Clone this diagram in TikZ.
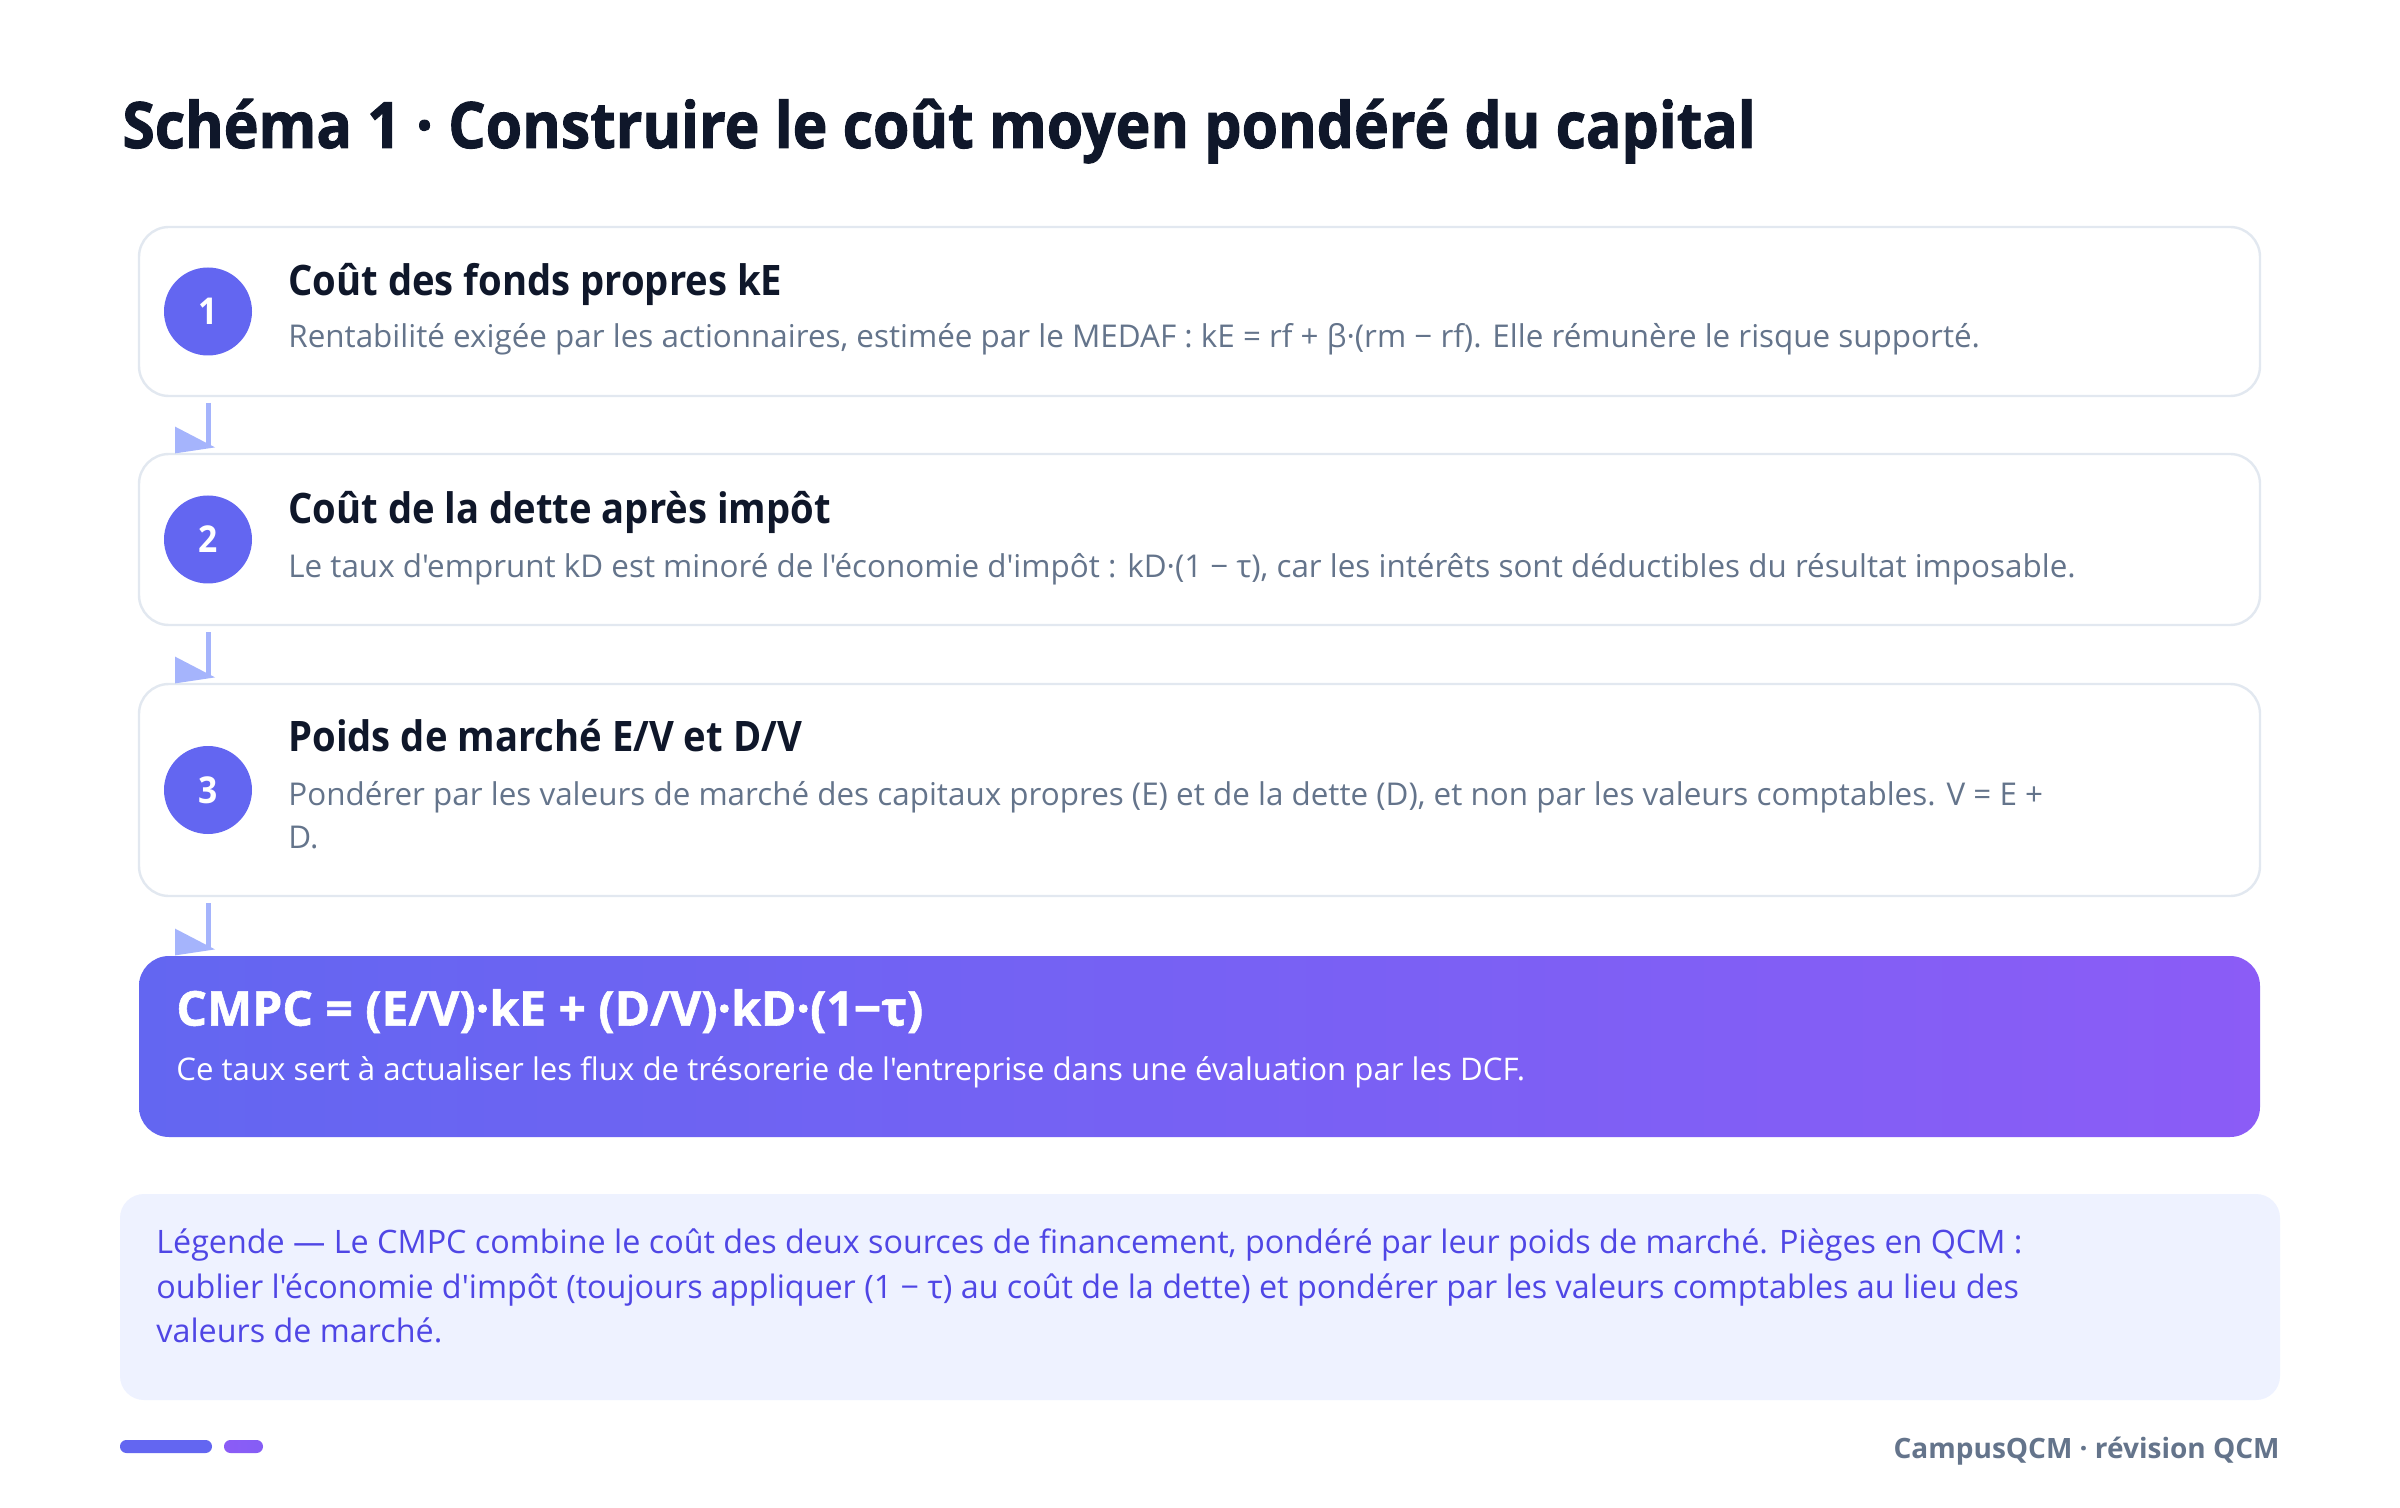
\documentclass[tikz,border=0pt]{standalone}
\usepackage{fontspec}
\setmainfont{Open Sans}[Ligatures=TeXOff]
\newfontfamily\heavy{Open Sans}[Ligatures=TeXOff, FakeStretch=0.92, BoldFeatures={FakeBold=1.5}]
\newfontfamily\heavyw{Open Sans}[Ligatures=TeXOff, BoldFeatures={FakeBold=1.2}]
\newfontfamily\stepfont{Open Sans}[Ligatures=TeXOff, FakeStretch=0.91]
\usetikzlibrary{calc}
\definecolor{ink}{HTML}{0F172A}
\definecolor{muted}{HTML}{64748B}
\definecolor{edge}{HTML}{E2E8F0}
\definecolor{indigo}{HTML}{6366F1}
\definecolor{violet}{HTML}{8B5CF6}
\definecolor{conn}{HTML}{A5B4FC}
\definecolor{legbg}{HTML}{EEF2FF}
\definecolor{legtx}{HTML}{4F46E5}
\tikzset{
  stepbox/.style={draw=edge, line width=1.2pt, fill=white, rounded corners=15pt, minimum width=1060.5pt, anchor=north west, inner sep=0pt, outer sep=0pt},
  numdot/.style={circle, fill=indigo, minimum size=44pt, inner sep=0pt, text=white, font=\stepfont\bfseries\fontsize{18.5}{18.5}\selectfont},
  steptitle/.style={anchor=base west, inner sep=0pt, text=ink, font=\stepfont\bfseries\fontsize{21}{25}\selectfont},
  stepbody/.style={anchor=base west, inner sep=0pt, text=muted, font=\fontsize{15.7}{21.5}\selectfont},
  legline/.style={anchor=base west, inner sep=0pt, text=legtx, font=\fontsize{16.15}{22}\selectfont},
  connline/.style={draw=conn, line width=2.5pt},
  conntip/.style={fill=conn},
}
\begin{document}
\begin{tikzpicture}[x=1pt,y=-1pt]
\useasboundingbox (0,0) rectangle (1200,754);
\fill[white] (0,0) rectangle (1200,754);

\node[anchor=base west, inner sep=0pt, text=ink, font=\heavy\bfseries\fontsize{32}{38}\selectfont] (title) at (61,74) {Schéma 1 · Construire le coût moyen pondéré du capital};

% step boxes
\node[stepbox, minimum height=84.5pt] (b1) at (69.5,113.5) {};
\node[stepbox, minimum height=85.5pt] (b2) at (69.5,227) {};
\node[stepbox, minimum height=106pt] (b3) at (69.5,342) {};

% final box
\shade[left color=indigo, right color=violet, rounded corners=15pt] (69.5,478) rectangle (1130,568.5);
\coordinate (b4) at (69.5,478);

% connectors
\foreach \a/\b in {b1/b2, b2/b3} {
  \draw[connline] ($(\a.south west)+(34.5,3.5)$) -- ($(\b.north west)+(34.5,-3.5)$);
  \fill[conntip] ($(\b.north west)+(18,-13.7)$) -- ($(\b.north west)+(18,-0.3)$) -- ($(\b.north west)+(38,-3.3)$) -- cycle;
}
\draw[connline] ($(b3.south west)+(34.5,3.5)$) -- ($(b4)+(34.5,-3.5)$);
\fill[conntip] ($(b4)+(18,-13.7)$) -- ($(b4)+(18,-0.3)$) -- ($(b4)+(38,-3.3)$) -- cycle;

% numbers
\node[numdot] (n1) at (104,155.75) {1};
\node[numdot] (n2) at (104,269.75) {2};
\node[numdot] (n3) at (104,395) {3};

% texts
\node[steptitle] (t1) at (144,147.7) {Coût des fonds propres kE};
\node[stepbody] (d1) at (144,173.7) {Rentabilité exigée par les actionnaires, estimée par le MEDAF : kE = rf + β·(rm − rf). Elle rémunère le risque supporté.};
\node[steptitle] (t2) at (144,261.7) {Coût de la dette après impôt};
\node[stepbody] (d2) at (144,288.5) {Le taux d'emprunt kD est minoré de l'économie d'impôt : kD·(1 − τ), car les intérêts sont déductibles du résultat imposable.};
\node[steptitle] (t3) at (144,375.8) {Poids de marché E/V et D/V};
\node[stepbody] (d3a) at (144,402.5) {Pondérer par les valeurs de marché des capitaux propres (E) et de la dette (D), et non par les valeurs comptables. V = E +};
\node[stepbody] (d3b) at (144,424) {D.};

\node[anchor=base west, inner sep=0pt, text=white, font=\heavyw\bfseries\fontsize{24}{28}\selectfont] (t4) at (88,512.8) {CMPC = (E/V)·kE + (D/V)·kD·(1−τ)};
\node[anchor=base west, inner sep=0pt, text=white, font=\fontsize{15.6}{21.5}\selectfont] (d4) at (88,540.3) {Ce taux sert à actualiser les flux de trésorerie de l'entreprise dans une évaluation par les DCF.};

% legend
\fill[legbg, rounded corners=12pt] (60,597) rectangle (1140,700);
\node[legline] (leg1) at (78,626.8) {Légende — Le CMPC combine le coût des deux sources de financement, pondéré par leur poids de marché. Pièges en QCM :};
\node[legline] (leg2) at (78,649) {oublier l'économie d'impôt (toujours appliquer (1 − τ) au coût de la dette) et pondérer par les valeurs comptables au lieu des};
\node[legline] (leg3) at (78,671.2) {valeurs de marché.};

% footer
\fill[indigo, rounded corners=3.2pt] (60,720) rectangle (106,726.5);
\shade[left color=violet, right color=violet!85!indigo, rounded corners=3.2pt] (112,720) rectangle (131.5,726.5);
\node[anchor=base east, inner sep=0pt, text=muted, font=\bfseries\fontsize{14}{16}\selectfont] (foot) at (1140,729.3) {CampusQCM · révision QCM};
\end{tikzpicture}
\end{document}
